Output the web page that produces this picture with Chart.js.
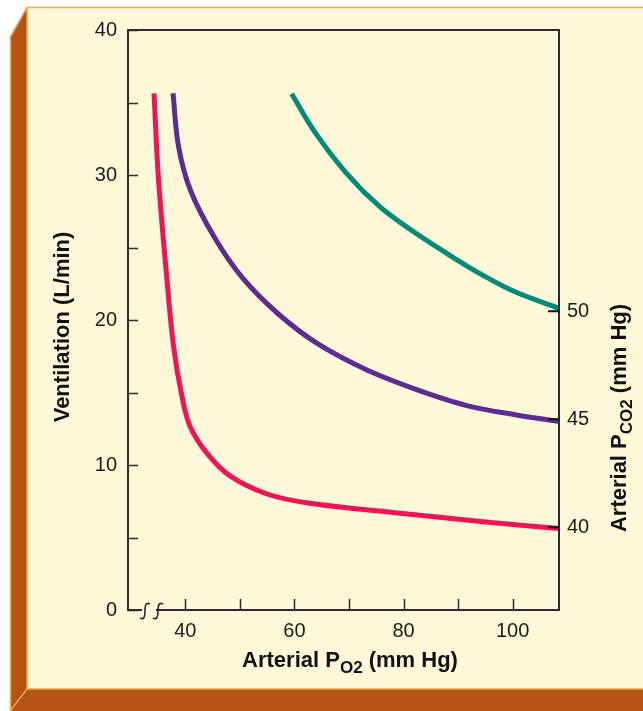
<!DOCTYPE html>
<html>
<head>
<meta charset="utf-8">
<script src="https://cdn.jsdelivr.net/npm/chart.js@4"></script>
<style>
  body { margin: 0; background: #fff; }
  canvas { display: block; }
</style>
</head>
<body>
<canvas id="myChart" width="643" height="711"></canvas>
<script>
// ventilation response to arterial PO2 at three arterial PCO2 levels
const pco2Levels = [40, 45, 50]
const pco2Colors = ['#ee1557', '#5c2d91', '#008b78']

const po2_40 = [34.27, 35.1, 36.65, 37.86, 39.4, 40.9, 44.0, 48.2, 55.0, 62.5, 79.4, 94.6, 108.5]
const vent_40 = [35.63, 29.66, 22.76, 18.16, 14.7, 12.64, 10.8, 9.25, 8.0, 7.38, 6.67, 6.09, 5.62]

const po2_45 = [37.75, 38.77, 41.0, 45.5, 50.5, 56.8, 64.1, 73.3, 82.4, 91.6, 100.7, 108.5]
const vent_45 = [35.63, 31.95, 28.9, 25.6, 22.9, 20.5, 18.4, 16.55, 15.2, 14.1, 13.45, 13.0]

const po2_50 = [59.5, 63.5, 69.6, 75.7, 81.8, 87.9, 94.0, 100.1, 108.5]
const vent_50 = [35.6, 33.1, 30.1, 27.8, 26.1, 24.6, 23.2, 22.0, 20.8]

const xTicks = [40, 50, 60, 70, 80, 90, 100]
const xLabels = [40, 60, 80, 100]
const yTicks = [0, 5, 10, 15, 20, 25, 30, 35, 40]
const yLabels = [0, 10, 20, 30, 40]
const pco2Ticks = [40, 45, 50]

const xMin = 29.5, xMax = 108.5
const yMin = 0, yMax = 40
const pco2Min = 36.16, pco2Max = 63.04

const cream = '#fff9d9'
const darkOrange = '#b35416'
const lightOrange = '#f5a54c'
const axisColor = '#2b2b2b'
const font = "'Liberation Sans', Arial, sans-serif"

function toPoints(xs, ys) {
  return xs.map((x, i) => ({ x: x, y: ys[i] }))
}

const series = [
  toPoints(po2_40, vent_40),
  toPoints(po2_45, vent_45),
  toPoints(po2_50, vent_50),
]

const framePlugin = {
  id: 'frame',
  beforeDraw(chart) {
    const ctx = chart.ctx
    ctx.save()
    ctx.fillStyle = '#ffffff'
    ctx.fillRect(0, 0, 643, 711)
    ctx.fillStyle = cream
    ctx.fillRect(27, 7, 616, 682)
    // left and bottom bevel strips
    ctx.fillStyle = darkOrange
    ctx.beginPath()
    ctx.moveTo(10, 37); ctx.lineTo(27, 7); ctx.lineTo(27, 689); ctx.lineTo(10, 711)
    ctx.closePath(); ctx.fill()
    ctx.beginPath()
    ctx.moveTo(10, 711); ctx.lineTo(27, 689); ctx.lineTo(643, 689); ctx.lineTo(643, 711)
    ctx.closePath(); ctx.fill()
    ctx.strokeStyle = lightOrange
    ctx.lineWidth = 1.5
    ctx.beginPath()
    ctx.moveTo(10.5, 711); ctx.lineTo(10.5, 37); ctx.lineTo(27, 7.5); ctx.lineTo(643, 7.5)
    ctx.moveTo(27, 7.5); ctx.lineTo(27, 689); ctx.lineTo(643, 689)
    ctx.moveTo(27, 689); ctx.lineTo(10, 711)
    ctx.stroke()
    ctx.restore()
  },
}

function drawS(ctx, x, y) {
  ctx.beginPath()
  ctx.moveTo(x + 5, y - 7)
  ctx.bezierCurveTo(x + 1, y - 9, x, y - 6, x, y)
  ctx.bezierCurveTo(x, y + 6, x - 1, y + 9, x - 5, y + 7)
  ctx.stroke()
}

function drawSubTitle(ctx, parts, cx, cy) {
  // parts: [text, isSub]
  const big = 'bold 22px ' + font
  const small = 'bold 17px ' + font
  let total = 0
  parts.forEach(p => {
    ctx.font = p[1] ? small : big
    total += ctx.measureText(p[0]).width
  })
  let x = cx - total / 2
  ctx.textAlign = 'left'
  ctx.textBaseline = 'alphabetic'
  parts.forEach(p => {
    ctx.font = p[1] ? small : big
    ctx.fillText(p[0], x, cy + (p[1] ? 6 : 0))
    x += ctx.measureText(p[0]).width
  })
}

const axesPlugin = {
  id: 'axesBox',
  afterDatasetsDraw(chart) {
    const ctx = chart.ctx
    const a = chart.chartArea
    const sx = chart.scales.x, sy = chart.scales.y, sp = chart.scales.y2
    ctx.save()
    ctx.strokeStyle = axisColor
    ctx.lineWidth = 2
    ctx.strokeRect(a.left, a.top, a.right - a.left, a.bottom - a.top)

    ctx.lineWidth = 1.5
    ctx.beginPath()
    xTicks.forEach(v => {
      const px = Math.round(sx.getPixelForValue(v)) + 0.5
      ctx.moveTo(px, a.bottom); ctx.lineTo(px, a.bottom - 11)
    })
    yTicks.forEach(v => {
      const py = Math.round(sy.getPixelForValue(v)) + 0.5
      ctx.moveTo(a.left, py); ctx.lineTo(a.left + 10, py)
    })
    ctx.stroke()
    ctx.lineWidth = 2
    ctx.strokeStyle = '#111'
    ctx.beginPath()
    pco2Ticks.forEach(v => {
      const py = sp.getPixelForValue(v)
      ctx.moveTo(a.right - 11, py); ctx.lineTo(a.right, py)
    })
    ctx.stroke()

    // axis break on the PO2 axis
    ctx.fillStyle = cream
    ctx.fillRect(142, a.bottom - 3, 14, 6)
    ctx.strokeStyle = axisColor
    ctx.lineWidth = 1.6
    drawS(ctx, 145, a.bottom + 1)
    drawS(ctx, 158, a.bottom + 1)

    // titles
    ctx.fillStyle = '#111'
    drawSubTitle(ctx, [['Arterial P', false], ['O2', true], [' (mm Hg)', false]], 350, 667)

    ctx.save()
    ctx.translate(69, 327)
    ctx.rotate(-Math.PI / 2)
    drawSubTitle(ctx, [['Ventilation (L/min)', false]], 0, 0)
    ctx.restore()

    ctx.save()
    ctx.translate(626, 418)
    ctx.rotate(-Math.PI / 2)
    drawSubTitle(ctx, [['Arterial P', false], ['CO2', true], [' (mm Hg)', false]], 0, 0)
    ctx.restore()

    ctx.restore()
  },
}

const tickFont = { family: font, size: 20 }

new Chart(document.getElementById('myChart').getContext('2d'), {
  type: 'line',
  data: {
    datasets: series.map((pts, i) => ({
      label: 'PCO2 ' + pco2Levels[i],
      data: pts,
      borderColor: pco2Colors[i],
      borderWidth: 5,
      pointRadius: 0,
      fill: false,
      tension: 0.35,
    })),
  },
  options: {
    responsive: false,
    animation: false,
    layout: { padding: { top: 30, left: 0, right: 0, bottom: 0 } },
    plugins: {
      legend: { display: false },
      tooltip: { enabled: false },
    },
    scales: {
      x: {
        type: 'linear',
        min: xMin,
        max: xMax,
        grid: { display: false, drawTicks: false },
        border: { display: false },
        afterBuildTicks: s => { s.ticks = xLabels.map(v => ({ value: v })) },
        afterFit: s => { s.height = 101 },
        ticks: { color: '#1a1a1a', font: tickFont, padding: 9, maxRotation: 0 },
      },
      y: {
        type: 'linear',
        min: yMin,
        max: yMax,
        grid: { display: false, drawTicks: false },
        border: { display: false },
        afterBuildTicks: s => { s.ticks = yLabels.map(v => ({ value: v })) },
        afterFit: s => { s.width = 128 },
        ticks: { color: '#1a1a1a', font: tickFont, padding: 11 },
      },
      y2: {
        type: 'linear',
        position: 'right',
        min: pco2Min,
        max: pco2Max,
        grid: { display: false, drawTicks: false },
        border: { display: false },
        afterBuildTicks: s => { s.ticks = pco2Ticks.map(v => ({ value: v })) },
        afterFit: s => { s.width = 84 },
        ticks: { color: '#1a1a1a', font: tickFont, padding: 8 },
      },
    },
  },
  plugins: [framePlugin, axesPlugin],
})
</script>
</body>
</html>
